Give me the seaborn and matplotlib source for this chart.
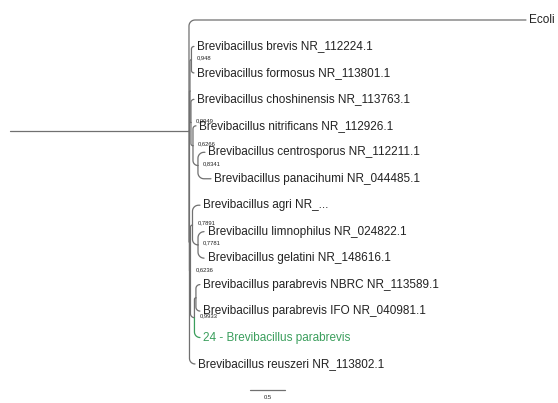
import numpy as np
import pandas as pd
import matplotlib
matplotlib.use("Agg")
import matplotlib.pyplot as plt
import seaborn as sns

# ---- tree table: node, parent, branch length (subst./site), bootstrap support ----
node_ids = ["root", "ecoli", "ingroup", "bfcn", "bf", "brevis", "formosus",
            "cn", "chosh", "ncp", "nitri", "cp", "cent", "pana",
            "agp", "ag", "agri", "lg", "limno", "gelat",
            "p", "ni", "nbrc", "ifo", "iso24", "reus"]
parents = [None, "root", "root", "ingroup", "bfcn", "bf", "bf",
           "bfcn", "cn", "cn", "ncp", "ncp", "cp", "cp",
           "ingroup", "agp", "ag", "ag", "lg", "lg",
           "agp", "p", "ni", "ni", "p", "ingroup"]
branch_len = [2.557, 4.814, 0.007, 0.007, 0.021, 0.036, 0.036,
              0.014, 0.043, 0.029, 0.043, 0.071, 0.100, 0.186,
              0.014, 0.029, 0.107, 0.079, 0.086, 0.086,
              0.057, 0.021, 0.057, 0.057, 0.079, 0.079]
support = {"bf": "0,948", "cn": "0,9949", "ncp": "0,6266", "cp": "0,8341",
           "ag": "0,7891", "lg": "0,7781", "agp": "0,6236", "p": "0,9933"}
tip_labels = {
    "ecoli": "Ecoli",
    "brevis": "Brevibacillus brevis NR_112224.1",
    "formosus": "Brevibacillus formosus NR_113801.1",
    "chosh": "Brevibacillus choshinensis NR_113763.1",
    "nitri": "Brevibacillus nitrificans NR_112926.1",
    "cent": "Brevibacillus centrosporus NR_112211.1",
    "pana": "Brevibacillus panacihumi NR_044485.1",
    "agri": "Brevibacillus agri NR_...",
    "limno": "Brevibacillu limnophilus NR_024822.1",
    "gelat": "Brevibacillus gelatini NR_148616.1",
    "nbrc": "Brevibacillus parabrevis NBRC NR_113589.1",
    "ifo": "Brevibacillus parabrevis IFO NR_040981.1",
    "iso24": "24 - Brevibacillus parabrevis",
    "reus": "Brevibacillus reuszeri NR_113802.1",
}
highlight = ["iso24"]
scale_len = 0.5

GRAY = "#707070"
TEXT = "#222222"
GREEN = "#3a9e5c"
PX_X, PX_Y = 70.0, 26.46          # pixels per branch unit / per tip row

# ---- layout: x = cumulative branch length, y = tip order / mean of children ----
par = dict(zip(node_ids, parents))
blen = dict(zip(node_ids, branch_len))
children = {n: [c for c, p in zip(node_ids, parents) if p == n] for n in node_ids}
xpos, ypos = {}, {}
counter = [0]

def place(n, x0):
    xpos[n] = x0 + blen[n]
    kids = children[n]
    if not kids:
        ypos[n] = counter[0]
        counter[0] += 1
    else:
        for k in kids:
            place(k, xpos[n])
        ypos[n] = np.mean([ypos[k] for k in kids])

place("root", 0.0)
n_tips = counter[0]

# ---- elbow edges with rounded corners ----
rows = []
R = 6.0
for n in node_ids:
    p = par[n]
    if p is None:
        rows += [dict(edge=n, x=0.0, y=ypos[n], grp="g"),
                 dict(edge=n, x=xpos[n], y=ypos[n], grp="g")]
        continue
    xp, yp, xc, yc = xpos[p], ypos[p], xpos[n], ypos[n]
    grp = "h" if n in highlight else "g"
    dx_px = (xc - xp) * PX_X
    dy_px = abs(yc - yp) * PX_Y
    r = min(R, dx_px, dy_px)
    sgn = np.sign(yc - yp) if yc != yp else 1.0
    pts = [(xp, yp)]
    if r > 0.2:
        rx, ry = r / PX_X, r / PX_Y
        t = np.linspace(0, np.pi / 2, 10)
        pts += list(zip(xp + rx * (1 - np.cos(t)), yc - sgn * ry * (1 - np.sin(t))))
    else:
        pts.append((xp, yc))
    pts.append((xc, yc))
    rows += [dict(edge=n, x=a, y=b, grp=grp) for a, b in pts]

# scale bar as its own polyline
sx0, sy = 3.43, n_tips
rows += [dict(edge="scale", x=sx0, y=sy, grp="g"),
         dict(edge="scale", x=sx0 + scale_len, y=sy, grp="g")]
edges = pd.DataFrame(rows)

sns.set_theme(style="white")
plt.rcParams["font.family"] = ["Liberation Sans", "DejaVu Sans"]

fig = plt.figure(figsize=(5.58, 4.03), dpi=100)
ax = fig.add_axes([0, 0, 1, 1])
sns.lineplot(data=edges, x="x", y="y", units="edge", estimator=None, sort=False,
             hue="grp", palette={"g": GRAY, "h": GREEN}, legend=False,
             linewidth=0.9, ax=ax)

# tip labels
for n, lab in tip_labels.items():
    ax.annotate(lab, (xpos[n], ypos[n]), xytext=(2.5, 0), textcoords="offset points",
                ha="left", va="center", fontsize=8.5,
                color=GREEN if n in highlight else TEXT)

# support values
for n, s in support.items():
    ax.annotate(s, (xpos[n], ypos[n]), xytext=(3.5, 1.5), textcoords="offset points",
                ha="left", va="center", fontsize=4.2, color=TEXT)

ax.text(sx0 + scale_len / 2, sy + 0.27, f"{scale_len}", ha="center", va="center",
        fontsize=4.2, color=TEXT)

left = -10 / PX_X
ax.set_xlim(left, left + 558 / PX_X)
top = -20 / PX_Y
ax.set_ylim(top + 403 / PX_Y, top)
ax.set_axis_off()

fig.savefig("out.png", dpi=100)
